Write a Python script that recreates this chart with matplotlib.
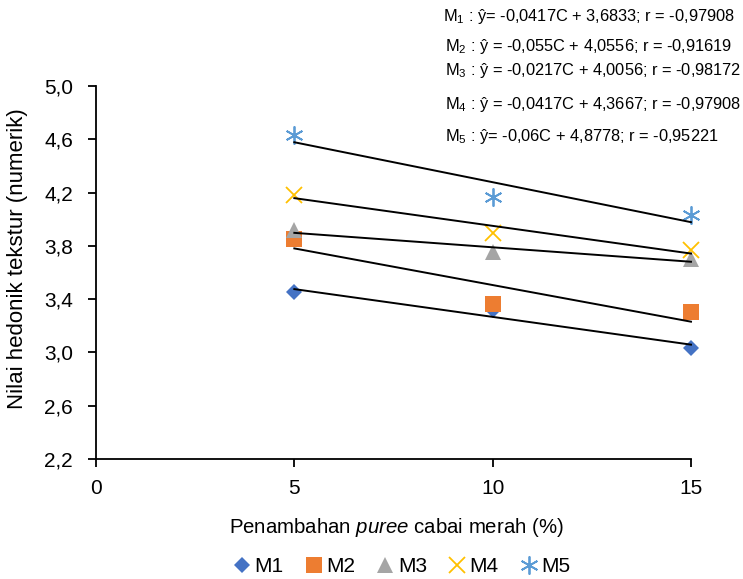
import numpy as np
import matplotlib
matplotlib.use("Agg")
import matplotlib.pyplot as plt
from matplotlib.ticker import FuncFormatter

plt.rcParams["font.family"] = ["Liberation Sans", "DejaVu Sans"]
plt.rcParams["mathtext.fontset"] = "custom"
plt.rcParams["mathtext.rm"] = "Liberation Sans"
plt.rcParams["mathtext.it"] = "Liberation Sans:italic"

# data
konsentrasi = [5, 10, 15]
series_names = ["M1", "M2", "M3", "M4", "M5"]
m1 = [3.45, 3.317, 3.033]
m2 = [3.85, 3.367, 3.30]
m3 = [3.917, 3.75, 3.70]
m4 = [4.183, 3.90, 3.767]
m5 = [4.633, 4.167, 4.033]
equations = [
    "M$_1$ : ŷ= -0,0417C + 3,6833; r = -0,97908",
    "M$_2$ : ŷ = -0,055C + 4,0556; r = -0,91619",
    "M$_3$ : ŷ = -0,0217C + 4,0056; r = -0,98172",
    "M$_4$ : ŷ = -0,0417C + 4,3667; r = -0,97908",
    "M$_5$ : ŷ= -0,06C + 4,8778; r = -0,95221",
]

colors = ["#4472C4", "#ED7D31", "#A5A5A5", "#FFC000", "#5B9BD5"]
markers = ["D", "s", "^", "x", (6, 2, 0)]
msizes = [8.5, 11.5, 12, 11.5, 13]

fig = plt.figure(figsize=(7.43, 5.79), dpi=100)
ax = fig.add_axes([0.1292, 0.2073, 0.8008, 0.6442])

x = np.array(konsentrasi, dtype=float)
for name, ys, c, m, ms in zip(series_names, [m1, m2, m3, m4, m5], colors, markers, msizes):
    ys = np.array(ys)
    b, a = np.polyfit(x, ys, 1)
    ax.plot(x, b * x + a, color="black", lw=1.4, zorder=3, clip_on=False)
    thin = m in ("x", (6, 2, 0))
    ax.plot(x, ys, ls="none", marker=m, color=c, markersize=ms,
            markeredgewidth=1.3 if thin else 0.0,
            markeredgecolor=c, label=name, zorder=2, clip_on=False)

ax.set_xlim(0, 15)
ax.set_ylim(2.2, 5.0)
ax.set_xticks([0, 5, 10, 15])
ax.set_yticks(np.arange(2.2, 5.01, 0.4))
ax.yaxis.set_major_formatter(FuncFormatter(lambda v, p: f"{v:.1f}".replace(".", ",")))
for s in ["top", "right"]:
    ax.spines[s].set_visible(False)
for s in ["left", "bottom"]:
    ax.spines[s].set_linewidth(1.3)
ax.tick_params(direction="out", length=5.5, width=1.3, labelsize=15, colors="black")
ax.tick_params(axis="x", pad=9)
ax.tick_params(axis="y", pad=11)

ax.set_xlabel("Penambahan $\\it{puree}$ cabai merah (%)", fontsize=14.7)
ax.xaxis.set_label_coords(0.505, -0.152)
fig.text(18 / 743, 1 - 259 / 579, "Nilai hedonik tekstur (numerik)", fontsize=16,
         rotation=90, ha="center", va="center")

eq_y = [16, 46, 70, 104, 136]
eq_x = [443, 445, 445, 445, 445]
for txt, yy, xx in zip(equations, eq_y, eq_x):
    fig.text(xx / 743, 1 - yy / 579, txt, fontsize=11.8, va="center", ha="left")

ax.legend(loc="center", bbox_to_anchor=(0.511, -0.2895), ncol=5, frameon=False,
          fontsize=15, handletextpad=0.0, columnspacing=0.85, markerscale=1.0,
          handlelength=1.2, borderpad=0)

fig.savefig("out.png", dpi=100)
